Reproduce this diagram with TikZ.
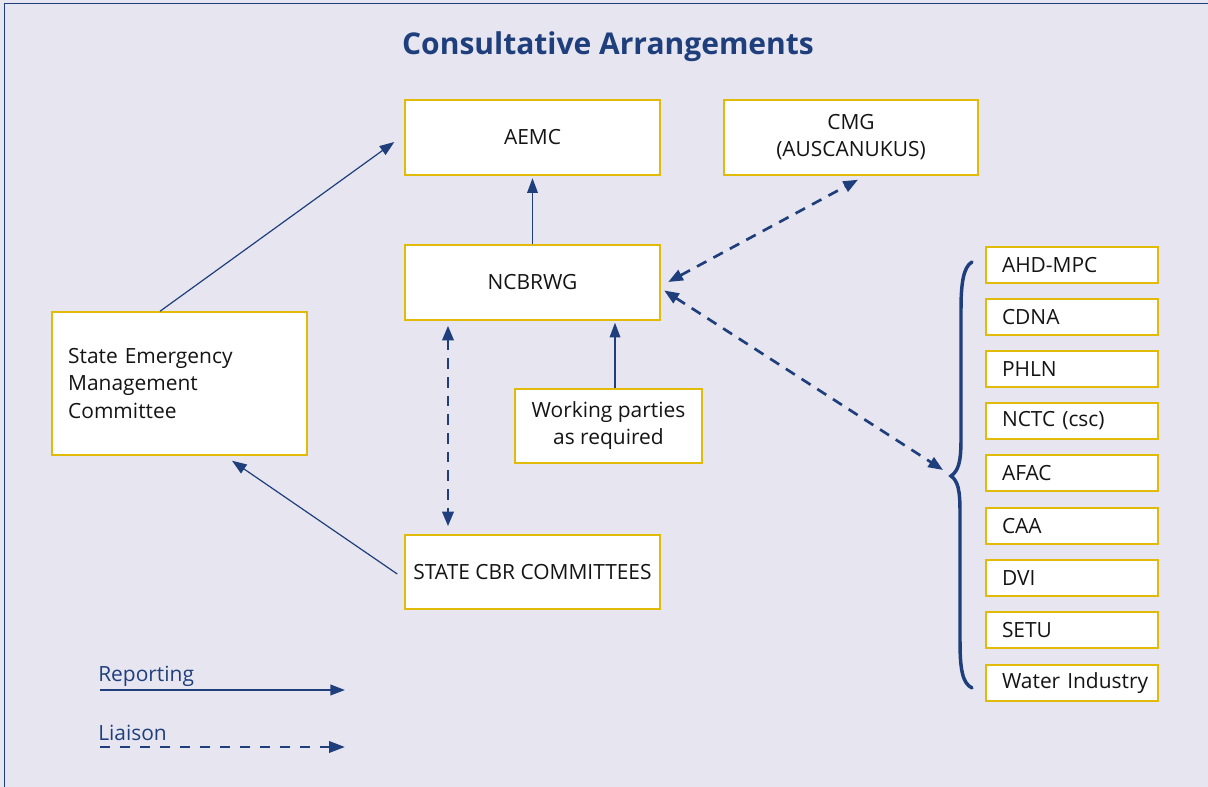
\documentclass[tikz,border=0pt]{standalone}
\usepackage{fontspec}
\setmainfont{Open Sans}
\usetikzlibrary{arrows.meta,calc}
\definecolor{navy}{RGB}{30,62,124}
\definecolor{gold}{RGB}{226,186,10}
\definecolor{lav}{RGB}{231,230,240}
\definecolor{ink}{RGB}{20,20,20}
\tikzset{
  box/.style={draw=gold, fill=white, line width=1.1pt, inner sep=0pt, text=ink,
    font=\fontsize{15.7}{20.3}\selectfont, align=center},
  listbox/.style={box, minimum width=129pt, minimum height=27pt, text width=105pt, align=left, inner xsep=12pt},
  report/.style={draw=navy, line width=0.9pt, -{Triangle[length=11pt,width=8pt]}, color=navy},
  liaison/.style={draw=navy, line width=2pt, dash pattern=on 8pt off 6pt,
    {Triangle[length=11pt,width=8.5pt]}-{Triangle[length=11pt,width=8.5pt]}, color=navy},
  liaisonone/.style={draw=navy, line width=2pt, dash pattern=on 7.5pt off 7.5pt,
    -{Triangle[length=12pt,width=8.5pt]}, color=navy},
}
\begin{document}
\begin{tikzpicture}[x=0.75pt,y=-0.75pt]
\fill[lav] (0,0) rectangle (1208,787);
\useasboundingbox (0,0) rectangle (1208,787);
\draw[navy, line width=1.2pt] (4.5,787) -- (4.5,3.5) -- (1208,3.5);

\node[font=\fontsize{22.5}{26}\selectfont\bfseries, text=navy] (title) at (608,47) {Consultative Arrangements};

\node[box, minimum width=191.25pt, minimum height=56.25pt] (aemc) at (532.5,137.5) {AEMC};
\node[box, minimum width=190.5pt, minimum height=56.25pt] (cmg) at (851,137.5) {CMG\\(AUSCANUKUS)};
\node[box, minimum width=191.25pt, minimum height=56.25pt] (ncb) at (532.5,282.5) {NCBRWG};
\node[box, minimum width=191.25pt, minimum height=107.25pt, text width=167pt, align=left, inner xsep=12pt] (semc) at (179.5,383.5) {State Emergency\\Management\\Committee};
\node[box, minimum width=140.25pt, minimum height=55.5pt] (work) at (608.5,426) {Working parties\\as required};
\node[box, minimum width=191.25pt, minimum height=55.5pt] (state) at (532.5,572) {STATE CBR COMMITTEES};

\node[listbox] (l1) at (1072,265) {AHD-MPC};
\node[listbox] (l2) at (1072,317) {CDNA};
\node[listbox] (l3) at (1072,369) {PHLN};
\node[listbox] (l4) at (1072,421) {NCTC (csc)};
\node[listbox] (l5) at (1072,473) {AFAC};
\node[listbox] (l6) at (1072,526) {CAA};
\node[listbox] (l7) at (1072,578) {DVI};
\node[listbox] (l8) at (1072,630) {SETU};
\node[listbox] (l9) at (1072,683) {\mbox{Water Industry}};

% brace
\draw[navy, line width=2.6pt, line cap=round]
  (972,262) .. controls (963,267) and (961,285) .. (961,310)
  -- (961,440) .. controls (961,463) and (958,471) .. (951,476)
  .. controls (958,481) and (960,490) .. (960,512)
  -- (960,640) .. controls (960,668) and (962,683) .. (972,688);
\coordinate (bt) at (943,470);

% reporting arrows
\draw[report] ($(semc.north)+(-19.5,0)$) -- ($(aemc.west)+(-10,4.5)$);
\draw[report] (ncb.north) -- ($(aemc.south)+(0,2.5)$);
\draw[report] ($(state.west)+(-7,2)$) -- ($(semc.south)+(52.5,5)$);
\draw[report] ($(work.north)+(6.5,0)$) -- ($(ncb.south)+(82.5,2)$);

% liaison arrows
\draw[liaison] ($(ncb.south)+(-84.5,5)$) -- ($(state.north)+(-84.5,-8)$);
\draw[liaison] ($(ncb.east)+(7.5,-0.5)$) -- ($(cmg.south)+(7,4)$);
\draw[liaison] ($(ncb.east)+(3.5,8)$) -- (bt);

% legend
\node[anchor=west, text=navy, font=\fontsize{15.7}{19}\selectfont, inner sep=0pt] (rep) at (98,676) {Reporting};
\node[anchor=west, text=navy, font=\fontsize{15.7}{19}\selectfont, inner sep=0pt] (lia) at (98,733) {Liaison};
\coordinate (r1) at (100,690);
\coordinate (r2) at (345,690);
\coordinate (d1) at (100,747);
\coordinate (d2) at (345,747);
\draw[report, line width=1.3pt] (r1) -- (r2);
\draw[liaisonone] (d1) -- (d2);
\end{tikzpicture}
\end{document}
